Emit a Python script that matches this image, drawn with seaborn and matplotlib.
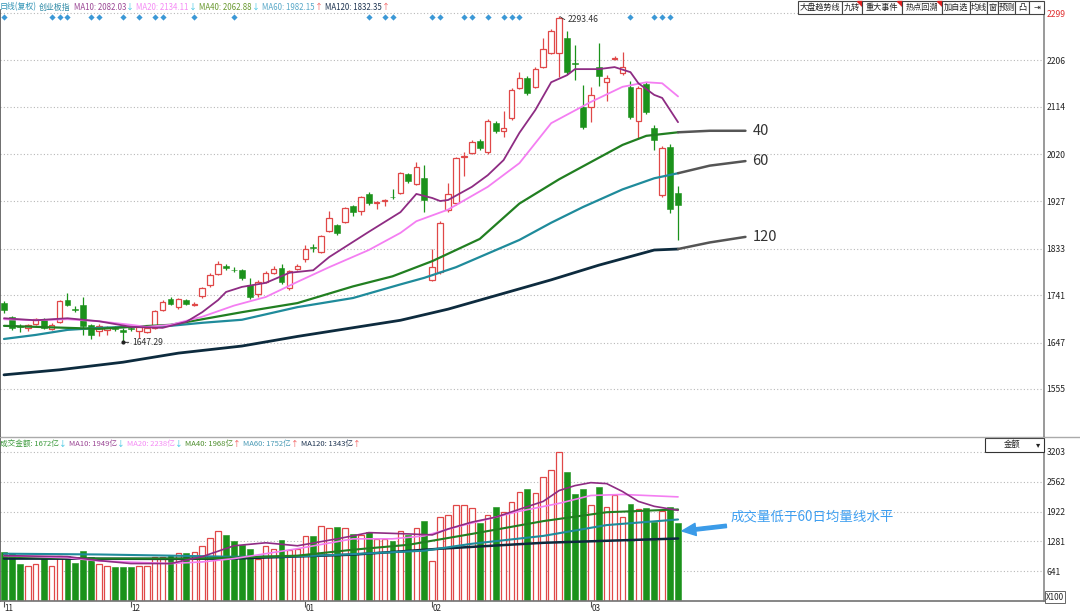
import matplotlib
matplotlib.use("Agg")
import matplotlib.pyplot as plt
import numpy as np
import pandas as pd
import seaborn as sns
from matplotlib.patches import Rectangle, Polygon
from matplotlib.lines import Line2D
from matplotlib.transforms import blended_transform_factory

# ---------------- data ----------------
opens = [1725, 1697, 1680, 1676, 1683, 1693, 1673, 1688, 1731, 1714,
         1721, 1682, 1670, 1672, 1675, 1672, 1675, 1670, 1668, 1676,
         1711, 1733, 1717, 1731, 1722, 1739, 1761, 1783, 1798, 1791,
         1790, 1761, 1743, 1767, 1785, 1794, 1755, 1792, 1812, 1836,
         1826, 1868, 1879, 1885, 1917, 1907, 1941, 1923, 1927, 1935,
         1943, 1980, 1961, 1972, 1771, 1786, 1909, 1923, 2014, 2022,
         2046, 2024, 2081, 2066, 2091, 2151, 2170, 2153, 2192, 2220,
         2220, 2250, 2201, 2113, 2113, 2192, 2162, 2208, 2180, 2153,
         2085, 2159, 2071, 1939, 2034, 1943]
highs = [1730, 1700, 1684, 1684, 1696, 1696, 1685, 1731, 1745, 1720,
         1737, 1684, 1683, 1680, 1679, 1676, 1678, 1680, 1680, 1711,
         1731, 1737, 1735, 1733, 1727, 1757, 1785, 1808, 1803, 1796,
         1793, 1775, 1770, 1788, 1798, 1802, 1790, 1802, 1840, 1842,
         1860, 1907, 1882, 1915, 1920, 1937, 1944, 1928, 1931, 1951,
         1985, 1983, 2004, 1998, 1832, 1887, 1962, 2015, 2024, 2048,
         2050, 2089, 2086, 2105, 2151, 2182, 2174, 2192, 2250, 2268,
         2293.46, 2263, 2236, 2157, 2153, 2240, 2176, 2214, 2222, 2164,
         2155, 2163, 2077, 2036, 2040, 1957]
lows = [1706, 1672, 1668, 1670, 1681, 1674, 1671, 1686, 1719, 1708,
        1662, 1654, 1660, 1662, 1670, 1647.29, 1670, 1656, 1666, 1674,
        1709, 1721, 1713, 1721, 1719, 1735, 1757, 1781, 1791, 1786,
        1771, 1734, 1738, 1765, 1783, 1763, 1750, 1790, 1806, 1826,
        1824, 1866, 1860, 1883, 1898, 1899, 1920, 1912, 1918, 1931,
        1940, 1963, 1958, 1905, 1768, 1783, 1905, 1920, 1976, 2020,
        2028, 2020, 2062, 2054, 2087, 2149, 2137, 2150, 2190, 2217,
        2172, 2178, 2166, 2070, 2083, 2155, 2125, 2206, 2176, 2090,
        2052, 2099, 2028, 1935, 1903, 1850]
closes = [1711, 1676, 1677, 1682, 1693, 1676, 1682, 1729, 1721, 1712,
          1680, 1662, 1680, 1678, 1674, 1668, 1674, 1678, 1676, 1709,
          1727, 1723, 1733, 1723, 1724, 1755, 1781, 1802, 1794, 1790,
          1774, 1737, 1767, 1785, 1792, 1767, 1788, 1798, 1832, 1835,
          1858, 1893, 1864, 1913, 1905, 1935, 1923, 1926, 1929, 1934,
          1982, 1966, 1994, 1929, 1796, 1883, 1941, 2012, 2016, 2044,
          2032, 2085, 2066, 2071, 2147, 2170, 2141, 2188, 2228, 2263,
          2289, 2182, 2199, 2073, 2137, 2174, 2170, 2210, 2192, 2093,
          2151, 2103, 2048, 2032, 1911, 1919]
volumes = [1060, 1040, 785, 763, 805, 975, 763, 975, 975, 827,
           1081, 954, 785, 763, 721, 721, 721, 763, 742, 954,
           954, 996, 1039, 1039, 1060, 1187, 1357, 1505, 1420, 1293,
           1208, 1124, 912, 1187, 1124, 1314, 1103, 1124, 1399, 1399,
           1611, 1569, 1590, 1560, 1442, 1420, 1484, 1336, 1336, 1293,
           1505, 1420, 1569, 1717, 869, 1802, 1844, 2056, 2056, 1993,
           1675, 1844, 2014, 1908, 2120, 2353, 2417, 2332, 2671, 2820,
           3201, 2777, 2290, 2417, 2056, 2459, 2014, 2268, 1802, 2078,
           1972, 1993, 1696, 1929, 2014, 1672]

# price moving averages (sampled at candle index)
ma10_x = [0, 4, 8, 12, 16, 20, 23, 25, 27, 28, 30, 33, 36, 39, 41, 46, 50, 52, 54, 55, 56,
          59, 61, 63, 65, 67, 69, 71, 72, 75, 77, 79, 80, 82, 83, 85]
ma10_y = [1695, 1691, 1695, 1689, 1678, 1676, 1688, 1707, 1731, 1747, 1757, 1765, 1785, 1790,
          1816, 1866, 1905, 1941, 1933, 1927, 1929, 1955, 1978, 2008, 2062, 2107, 2162, 2176,
          2188, 2188, 2192, 2182, 2160, 2137, 2131, 2083]
ma20_x = [0, 4, 8, 12, 16, 18, 21, 25, 29, 33, 37, 41, 46, 50, 52, 56, 61, 65, 69, 74, 78, 81, 83, 85]
ma20_y = [1693, 1691, 1693, 1689, 1682, 1678, 1682, 1698, 1720, 1737, 1767, 1796, 1830, 1864,
          1887, 1910, 1955, 2002, 2081, 2123, 2153, 2162, 2160, 2134]
ma40_x = [0, 4, 8, 12, 16, 21, 25, 30, 37, 44, 49, 54, 57, 60, 65, 70, 74, 78, 81, 85]
ma40_y = [1680, 1678, 1676, 1674, 1678, 1682, 1693, 1707, 1725, 1758, 1778, 1808, 1830, 1852,
          1922, 1970, 2004, 2038, 2056, 2063]
ma60_x = [0, 4, 8, 12, 16, 21, 25, 30, 37, 44, 50, 53, 57, 61, 65, 69, 73, 78, 82, 85]
ma60_y = [1654, 1662, 1672, 1676, 1678, 1680, 1686, 1692, 1717, 1735, 1762, 1775, 1796, 1823,
          1850, 1884, 1915, 1950, 1972, 1982]
ma120_x = [0, 7, 15, 22, 30, 37, 50, 56, 69, 75, 82, 85]
ma120_y = [1583, 1593, 1608, 1626, 1640, 1659, 1691, 1713, 1771, 1800, 1830, 1832]

# hand-drawn extensions of MA40 / MA60 / MA120
ext_x = [85, 89, 93.5]
ma40_ext = [2063, 2066, 2066]
ma60_ext = [1982, 1997, 2006]
ma120_ext = [1832, 1845, 1856]
ext_labels = ["40", "60", "120"]

# volume moving averages
vma10_x = [0, 8, 12, 16, 21, 25, 29, 33, 37, 42, 44, 46, 51, 54, 56, 59, 62, 65, 68, 70, 72, 74, 76, 78, 80, 82, 85]
vma10_y = [975, 954, 869, 805, 805, 954, 1187, 1251, 1187, 1336, 1400, 1470, 1442, 1420, 1548,
           1696, 1802, 1972, 2141, 2374, 2480, 2544, 2523, 2353, 2141, 2035, 1949]
vma20_x = [0, 8, 12, 21, 25, 29, 33, 37, 44, 49, 53, 57, 61, 65, 70, 74, 78, 85]
vma20_y = [975, 930, 860, 805, 840, 912, 1017, 1124, 1336, 1336, 1399, 1590, 1760, 1929, 2099, 2268, 2290, 2238]
vma40_x = [0, 12, 25, 37, 44, 51, 59, 68, 76, 85]
vma40_y = [954, 912, 912, 975, 1102, 1208, 1442, 1717, 1908, 1968]
vma60_x = [0, 12, 21, 29, 37, 43, 53, 59, 68, 76, 85]
vma60_y = [1017, 1000, 975, 950, 960, 1000, 1081, 1230, 1399, 1632, 1752]
vma120_x = [0, 21, 29, 44, 55, 68, 85]
vma120_y = [912, 905, 912, 996, 1124, 1251, 1343]

signal_idx = [0, 6, 7, 8, 11, 12, 15, 17, 19, 20, 24, 29, 46, 48, 49, 54, 55, 58, 59, 61,
              63, 64, 65, 79, 82, 83, 84]
month_idx = [0, 16, 38, 54, 74]
month_labels = ["11", "12", "01", "02", "03"]
price_ticks = [2299, 2206, 2114, 2020, 1927, 1833, 1741, 1647, 1555]
vol_ticks = [3203, 2562, 1922, 1281, 641]

price_legend = ["日线(复权)", "创业板指", "MA10: 2082.03", "MA20: 2134.11", "MA40: 2062.88",
                "MA60: 1982.15", "MA120: 1832.35"]
price_arrows = ["↓", "↓", "↓", "↑", "↑"]
vol_legend = ["成交金额: 1672亿", "MA10: 1949亿", "MA20: 2238亿", "MA40: 1968亿",
              "MA60: 1752亿", "MA120: 1343亿"]
vol_arrows = ["↓", "↓", "↓", "↑", "↑", "↑"]
toolbar = ["大盘趋势线", "九转", "重大事件", "热点回溯", "加自选", "均线", "窗", "预测", "凸", "⇥"]
note_text = "成交量低于60日均量线水平"

# ---------------- style ----------------
sns.set_theme(style="white")
plt.rcParams['font.family'] = ['Noto Sans CJK SC', 'DejaVu Sans']
plt.rcParams['axes.unicode_minus'] = False

C_RED = '#e04848'
C_GREEN = '#1b921b'
C_MA10 = '#8e2c83'
C_MA20 = '#f47ef2'
C_MA40 = '#217f21'
C_MA60 = '#1f8b9b'
C_MA120 = '#0d2b3e'
C_UP = '#f05050'
C_DN = '#30c0e0'

W, H = 1080, 614
fig = plt.figure(figsize=(W / 100, H / 100), dpi=100)
fig.patch.set_facecolor('white')
ax = fig.add_axes([0, 1 - 437 / H, 1044 / W, 427 / H])
axv = fig.add_axes([0, 1 - 601 / H, 1044 / W, 164 / H])

XMIN, XMAX = -0.504, 131.15
for a in (ax, axv):
    a.set_xlim(XMIN, XMAX)
    a.set_facecolor('white')
ax.set_ylim(1460, 2305)
axv.set_ylim(0, 3525)

idx = np.arange(len(opens))
o = np.array(opens, float); c = np.array(closes, float)
h = np.array(highs, float); l = np.array(lows, float)
v = np.array(volumes, float)
up = c >= o
body_lo = np.minimum(o, c)
body_h = np.maximum(np.abs(c - o), 1.3)

# grid
for a, ticks in ((ax, price_ticks), (axv, vol_ticks)):
    a.set_yticks(ticks, labels=[str(t) for t in ticks])
    a.yaxis.tick_right()
    a.tick_params(axis='y', length=0, pad=2, labelsize=6.2, labelcolor='#222')
    a.grid(axis='y', linestyle=(0, (1, 2)), color='#b8b8b8', lw=0.8)
    a.grid(axis='x', visible=False)
    a.set_axisbelow(True)
ax.get_yticklabels()[0].set_color('#e03030')

# candles
ax.vlines(idx[up], l[up], h[up], color=C_RED, lw=0.9, zorder=2)
ax.vlines(idx[~up], l[~up], h[~up], color=C_GREEN, lw=0.9, zorder=2)
ax.bar(idx[up], body_h[up], bottom=body_lo[up], width=0.70, facecolor='white',
       edgecolor=C_RED, lw=0.9, zorder=3)
ax.bar(idx[~up], body_h[~up], bottom=body_lo[~up], width=0.74, color=C_GREEN,
       edgecolor=C_GREEN, lw=0.4, zorder=3)

# moving averages
for xs, ys, col, lw in ((ma120_x, ma120_y, C_MA120, 2.0), (ma60_x, ma60_y, C_MA60, 1.6),
                        (ma40_x, ma40_y, C_MA40, 1.6), (ma20_x, ma20_y, C_MA20, 1.3),
                        (ma10_x, ma10_y, C_MA10, 1.3)):
    df = pd.DataFrame({'x': xs, 'y': ys})
    sns.lineplot(data=df, x='x', y='y', ax=ax, color=col, lw=lw, estimator=None,
                 sort=False, legend=False, zorder=4)
for ys in (ma40_ext, ma60_ext, ma120_ext):
    df = pd.DataFrame({'x': ext_x, 'y': ys})
    sns.lineplot(data=df, x='x', y='y', ax=ax, color='#555555', lw=1.8, estimator=None,
                 sort=False, legend=False, zorder=4)
for lab, ys in zip(ext_labels, (ma40_ext, ma60_ext, ma120_ext)):
    ax.text(ext_x[-1] + 0.9, ys[-1], lab, fontsize=10.5, color='#333', va='center', ha='left')

# signal diamonds
trans = blended_transform_factory(ax.transData, ax.transAxes)
ax.scatter(signal_idx, np.full(len(signal_idx), 0.9836), transform=trans, marker='D', s=10,
           color='#3b98d6', zorder=6, clip_on=False, linewidths=0)

# high / low annotations
hi = int(np.argmax(h)); lo = int(np.argmin(l))
ax.annotate(f"{h[hi]:.2f}", xy=(hi, h[hi]), xytext=(9, -4), textcoords='offset pixels',
            fontsize=6.2, color='#333', va='center', ha='left',
            arrowprops=dict(arrowstyle='-', color='#333', lw=0.6,
                            connectionstyle='arc3,rad=-0.3', shrinkA=0, shrinkB=1))
ax.plot([lo], [l[lo]], marker='o', ms=2, color='#222', zorder=6)
ax.annotate(f"{l[lo]:.2f}", xy=(lo, l[lo]), xytext=(9, 0), textcoords='offset pixels',
            fontsize=6.2, color='#333', va='center', ha='left',
            arrowprops=dict(arrowstyle='-', color='#333', lw=0.7, shrinkA=0, shrinkB=0))

# volume bars
axv.bar(idx[up], v[up], width=0.70, facecolor='white', edgecolor=C_RED, lw=0.9, zorder=2)
axv.bar(idx[~up], v[~up], width=0.74, color=C_GREEN, edgecolor=C_GREEN, lw=0.4, zorder=2)
for xs, ys, col, lw in ((vma120_x, vma120_y, C_MA120, 1.8), (vma60_x, vma60_y, C_MA60, 1.5),
                        (vma40_x, vma40_y, C_MA40, 1.5), (vma20_x, vma20_y, C_MA20, 1.2),
                        (vma10_x, vma10_y, C_MA10, 1.2)):
    df = pd.DataFrame({'x': xs, 'y': ys})
    sns.lineplot(data=df, x='x', y='y', ax=axv, color=col, lw=lw, estimator=None,
                 sort=False, legend=False, zorder=3)

axv.annotate(note_text, xy=(len(volumes) - 0.5, volumes[-1] * 0.9), xytext=(49, 15),
             textcoords='offset pixels', fontsize=9.7, color='#3d9ef0', va='center', ha='left',
             arrowprops=dict(arrowstyle='simple,head_length=0.9,head_width=0.8,tail_width=0.22',
                             color='#3b9be8', shrinkA=1, shrinkB=0, mutation_scale=11))

# axes cosmetics
for a in (ax, axv):
    a.set_xlabel(''); a.set_ylabel('')
    for s in a.spines.values():
        s.set_visible(False)
    a.spines['left'].set_visible(True); a.spines['left'].set_color('#555'); a.spines['left'].set_linewidth(1.2)
    a.spines['right'].set_visible(True); a.spines['right'].set_color('#888'); a.spines['right'].set_linewidth(1.2)
ax.set_xticks([])
axv.spines['bottom'].set_visible(True); axv.spines['bottom'].set_color('#777')
axv.set_xticks(month_idx, labels=[''] * len(month_idx))
axv.tick_params(axis='x', length=4, width=0.8, color='#555', pad=0, bottom=True)
mtrans = blended_transform_factory(axv.transData, fig.transFigure)
for mi, lab in zip(month_idx, month_labels):
    axv.text(mi + 0.1, 1 - 608.5 / H, lab, transform=mtrans, fontsize=5.8, color='#222',
             ha='left', va='center', clip_on=False)

# separator line between panels
fig.add_artist(Line2D([0, 1], [1 - 437 / H, 1 - 437 / H], color='#aaaaaa', lw=1.0))

# ---------------- header texts ----------------
renderer = fig.canvas.get_renderer()


def seq_text(x0, ypix, pieces, fs):
    x = x0
    for txt, col, gap in pieces:
        t = fig.text(x / W, 1 - ypix / H, txt, color=col, fontsize=fs, va='center', ha='left')
        bb = t.get_window_extent(renderer=renderer)
        x += bb.width + gap


pcols = ['#2f93b5', '#2f8aa6', '#9b4795', '#f58cf5', '#6a9a30', '#58a8c8', '#1f3552']
pieces = [(price_legend[0], pcols[0], 2), (price_legend[1], pcols[1], 3)]
for i in range(5):
    pieces.append((price_legend[i + 2], pcols[i + 2], 0))
    pieces.append((price_arrows[i], C_DN if price_arrows[i] == '↓' else C_UP, 2.5))
seq_text(0, 7, pieces, 5.7)

vcols = ['#3c9a3c', '#9b4795', '#f58cf5', '#4f8f2f', '#4a9ab5', '#1f3552']
pieces = []
for i in range(6):
    pieces.append((vol_legend[i], vcols[i], 0))
    pieces.append((vol_arrows[i], C_DN if vol_arrows[i] == '↓' else C_UP, 2.5))
seq_text(0, 444, pieces, 5.5)

# toolbar
bw = [44, 20, 40, 40, 28, 17, 11, 17, 14, 15]
x = 1044 - sum(bw)
for name, wpx in zip(toolbar, bw):
    fig.add_artist(Rectangle((x / W, 1 - 13.5 / H), wpx / W, 12.5 / H, facecolor='white',
                             edgecolor='#444', lw=0.8, transform=fig.transFigure))
    fig.text((x + wpx / 2) / W, 1 - 7.3 / H, name, fontsize=5.9, color='#222',
             ha='center', va='center')
    if name in ("九转", "重大事件", "热点回溯"):
        xr = x + wpx
        fig.add_artist(Polygon([[(xr - 5) / W, 1 - 1 / H], [xr / W, 1 - 1 / H], [xr / W, 1 - 6 / H]],
                               closed=True, color='#e02020', transform=fig.transFigure))
    x += wpx

# 金额 dropdown
fig.add_artist(Rectangle((985 / W, 1 - 452 / H), 59 / W, 14.5 / H, facecolor='white',
                         edgecolor='#333', lw=0.8, transform=fig.transFigure))
fig.text(1012 / W, 1 - 444.5 / H, "金额", fontsize=6.0, color='#222', ha='center', va='center')
fig.text(1038 / W, 1 - 444.5 / H, "▾", fontsize=6.0, color='#222', ha='center', va='center')

# X100 box
fig.text(1046 / W, 1 - 597 / H, "X100", fontsize=5.8, color='#222', ha='left', va='center',
         bbox=dict(boxstyle='square,pad=0.15', facecolor='white', edgecolor='#666', lw=0.7))

fig.savefig("out.png", dpi=100, facecolor='white')
